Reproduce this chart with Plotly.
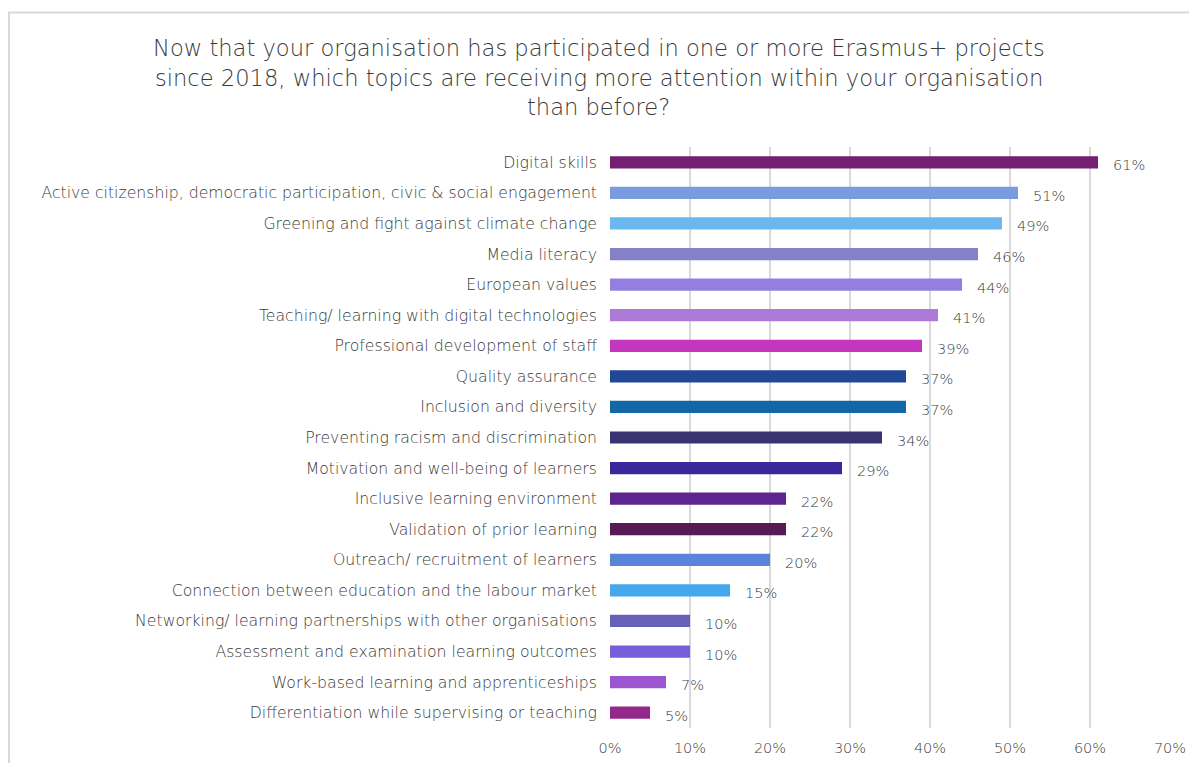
import plotly.graph_objects as go

# Survey topics (top to bottom as displayed) and share of organisations
topics = [
    "Digital skills",
    "Active citizenship, democratic participation, civic & social engagement",
    "Greening and fight against climate change",
    "Media literacy",
    "European values",
    "Teaching/ learning with digital technologies",
    "Professional development of staff",
    "Quality assurance",
    "Inclusion and diversity",
    "Preventing racism and discrimination",
    "Motivation and well-being of learners",
    "Inclusive learning environment",
    "Validation of prior learning",
    "Outreach/ recruitment of learners",
    "Connection between education and the labour market",
    "Networking/ learning partnerships with other organisations",
    "Assessment and examination learning outcomes",
    "Work-based learning and apprenticeships",
    "Differentiation while supervising or teaching",
]
shares = [61, 51, 49, 46, 44, 41, 39, 37, 37, 34, 29, 22, 22, 20, 15, 10, 10, 7, 5]
bar_colors = [
    "#741f72", "#7b9be0", "#6bb7f0", "#8580c8", "#927fe0", "#ae7ad9",
    "#c436be", "#214796", "#1267a6", "#393372", "#3a2799", "#5e258e",
    "#561a54", "#5a84da", "#46a8ec", "#6660b8", "#765fd8", "#9b55d0",
    "#93288c",
]
tick_values = [0, 10, 20, 30, 40, 50, 60, 70]
tick_labels = ["0%", "10%", "20%", "30%", "40%", "50%", "60%", "70%"]

FONT = "DejaVu Sans"
WEIGHT = 200
GREY = "#3a3a3a"

fig = go.Figure(
    go.Bar(
        x=shares,
        y=topics,
        orientation="h",
        marker=dict(color=bar_colors, line=dict(width=0)),
        width=0.4,
        hoverinfo="x+y",
    )
)

# value labels to the right of each bar
for t, v in zip(topics, shares):
    fig.add_annotation(
        x=v, y=t, xref="x", yref="y",
        text=f"{v}%", showarrow=False,
        xanchor="left", yanchor="middle",
        xshift=13, yshift=-3,
        font=dict(family=FONT, size=14.5, color=GREY, weight=WEIGHT),
    )

# chart title, one annotation per line for even spacing
title_lines = [
    "Now that your organisation has participated in one or more Erasmus+ projects",
    "since 2018, which topics are receiving more attention within your organisation",
    "than before?",
]
for i, line in enumerate(title_lines):
    fig.add_annotation(
        xref="paper", yref="paper",
        x=-0.020, y=(728 - (48 + 29.5 * i)) / 581,
        xanchor="center", yanchor="middle",
        text=line, showarrow=False,
        font=dict(family=FONT, size=22.6, color=GREY, weight=WEIGHT),
    )

# outer frame of the chart
fig.add_shape(
    type="rect", xref="paper", yref="paper",
    x0=(9 - 610) / 560, x1=(1195 - 610) / 560,
    y0=-(770 - 728) / 581, y1=(728 - 12.5) / 581,
    line=dict(color="#d9d9d9", width=2), fillcolor="rgba(0,0,0,0)",
    layer="below",
)

fig.update_layout(
    width=1189, height=763,
    margin=dict(l=610, r=19, t=147, b=35, autoexpand=False),
    paper_bgcolor="white", plot_bgcolor="white",
    showlegend=False,
    font=dict(family=FONT, color=GREY, weight=WEIGHT),
    bargap=0.6,
)
fig.update_xaxes(
    range=[0, 70], tickvals=tick_values, ticktext=tick_labels,
    showgrid=True, gridcolor="#d9d9d9", gridwidth=2,
    zeroline=False, showline=False, ticks="",
    ticklabelstandoff=9,
    tickfont=dict(family=FONT, size=14.5, color=GREY, weight=WEIGHT),
    automargin=False, fixedrange=True,
)
fig.update_yaxes(
    categoryorder="array", categoryarray=topics[::-1],
    showgrid=False, zeroline=False, showline=False, ticks="",
    ticklabelstandoff=12,
    tickfont=dict(family=FONT, size=15.7, color=GREY, weight=WEIGHT),
    automargin=False, fixedrange=True,
)

fig.write_html("out.html")
